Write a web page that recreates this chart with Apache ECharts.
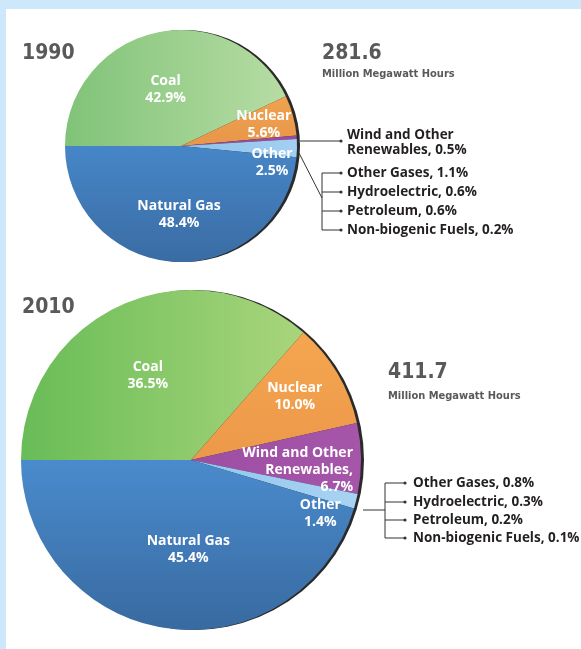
<!DOCTYPE html>
<html>
<head>
<meta charset="utf-8">
<script src="https://cdn.jsdelivr.net/npm/echarts@6/dist/echarts.min.js"></script>
<style>
html, body { margin: 0; padding: 0; background: #cde8fb; }
#main { width: 581px; height: 649px; }
</style>
</head>
<body>
<div id="main"></div>
<script>
// data
const years = ['1990', '2010']
const totals = [281.6, 411.7]
const unitLabel = 'Million Megawatt Hours'
const categories = ['Coal', 'Nuclear', 'Wind and Other Renewables', 'Other', 'Natural Gas']
const shares1990 = [42.9, 5.6, 0.5, 2.5, 48.4]
const shares2010 = [36.5, 10.0, 6.7, 1.4, 45.4]
const otherNames = ['Other Gases', 'Hydroelectric', 'Petroleum', 'Non-biogenic Fuels']
const other1990 = [1.1, 0.6, 0.6, 0.2]
const other2010 = [0.8, 0.3, 0.2, 0.1]

// label text shown inside the slices
const insideNames = ['Coal', 'Nuclear', 'Wind and Other\nRenewables,', 'Other', 'Natural Gas']

const grad = (x2, y2, c1, c2) => new echarts.graphic.LinearGradient(0, 0, x2, y2, [
    { offset: 0, color: c1 },
    { offset: 1, color: c2 }
])
const colors1990 = [
    grad(1, 0, '#80c378', '#b7dca4'),
    grad(0, 1, '#f0a24f', '#e8964a'),
    '#9b4a9f',
    grad(1, 0, '#8dc2ea', '#a3d0f2'),
    grad(0, 1, '#4686c8', '#3a6ca3')
]
const colors2010 = [
    grad(1, 0, '#68bc57', '#a9d57c'),
    grad(0, 1, '#f5a64f', '#ec984a'),
    grad(1, 0, '#9d4ea3', '#a656a9'),
    grad(1, 0, '#92c6ee', '#a8d3f3'),
    grad(0, 1, '#4a8bcd', '#386aa0')
]
// nudges so labels sit where the original puts them
const labelShift = [
    [[-2, 3], [24, -5], [0, 0], [30, 15], [1, 8]],
    [[-7, -4], [28, -19], [74, 11], [44, 32], [10, 2]]
]

const pies = [
    { center: [181, 146], r: 116 },
    { center: [191, 460], r: 170 }
]

const makeSeries = (shares, colors, idx) => ({
    type: 'pie',
    center: pies[idx].center,
    radius: pies[idx].r,
    startAngle: 180,
    clockwise: true,
    z: 3,
    silent: true,
    avoidLabelOverlap: false,
    data: shares.map((v, i) => ({
        name: categories[i],
        value: v,
        itemStyle: { color: colors[i] },
        label: { show: v >= 1 }
    })),
    label: {
        position: 'inside',
        color: '#fff',
        fontFamily: 'Open Sans',
        fontWeight: 'bold',
        fontSize: 14,
        lineHeight: 17,
        formatter: p => insideNames[p.dataIndex] + '\n' + p.value.toFixed(1) + '%'
    },
    labelLine: { show: false },
    labelLayout: p => {
        const s = labelShift[idx][p.dataIndex]
        const out = { dx: s[0], dy: s[1], hideOverlap: false }
        // the long renewables label is set flush right in the original
        if (idx === 1 && p.dataIndex === 2) out.align = 'right'
        return out
    }
})

const txt = (x, y, s, size, color, family) => ({
    type: 'text',
    x: x, y: y, z: 10,
    style: {
        text: s,
        fill: color,
        font: 'bold ' + size + 'px ' + family,
        textVerticalAlign: 'middle'
    }
})
const line = (pts) => ({
    type: 'polyline', z: 10,
    shape: { points: pts },
    style: { stroke: '#333', lineWidth: 1, fill: null }
})
const dot = (x, y) => ({
    type: 'circle', z: 10,
    shape: { cx: x, cy: y, r: 1.6 },
    style: { fill: '#333' }
})

const titleFont = '"DejaVu Sans Condensed", sans-serif'
const noteFont = '"Open Sans", sans-serif'
const fmt = v => v.toFixed(1) + '%'

const graphics = [
    { type: 'rect', z: 0, shape: { x: 6, y: 9, width: 575, height: 640 }, style: { fill: '#fff' } },
    // dark rim on the right of each pie
    { type: 'circle', z: 1, shape: { cx: pies[0].center[0] + 3, cy: pies[0].center[1], r: pies[0].r }, style: { fill: '#2a2a2a' } },
    { type: 'circle', z: 1, shape: { cx: pies[1].center[0] + 3, cy: pies[1].center[1], r: pies[1].r }, style: { fill: '#2a2a2a' } },

    txt(22, 54, years[0], 21, '#58595b', titleFont),
    txt(322, 54, totals[0].toFixed(1), 21, '#58595b', titleFont),
    txt(322, 74, unitLabel, 11, '#58595b', titleFont),
    txt(22, 308, years[1], 21, '#58595b', titleFont),
    txt(388, 373, totals[1].toFixed(1), 21, '#58595b', titleFont),
    txt(388, 396, unitLabel, 11, '#58595b', titleFont),

    // 1990 notes
    line([[300, 141], [340, 141]]), dot(341, 141),
    txt(347, 135, 'Wind and Other', 13.5, '#231f20', noteFont),
    txt(347, 150, 'Renewables, ' + fmt(shares1990[2]), 13.5, '#231f20', noteFont),
    line([[299, 153], [322, 198]]),
    line([[340, 173], [322, 173], [322, 230], [340, 230]]),
    line([[322, 192], [340, 192]]),
    line([[322, 211], [340, 211]]),
    dot(341, 173), dot(341, 192), dot(341, 211), dot(341, 230),

    // 2010 notes
    line([[363, 510], [385, 510]]),
    line([[404, 483], [385, 483], [385, 538], [404, 538]]),
    line([[385, 502], [404, 502]]),
    line([[385, 520], [404, 520]]),
    dot(405, 483), dot(405, 502), dot(405, 520), dot(405, 538)
]
const rows1990 = [173, 192, 211, 230]
const rows2010 = [483, 502, 520, 538]
otherNames.forEach((n, i) => {
    graphics.push(txt(347, rows1990[i], n + ', ' + fmt(other1990[i]), 13.5, '#231f20', noteFont))
    graphics.push(txt(413, rows2010[i], n + ', ' + fmt(other2010[i]), 13.5, '#231f20', noteFont))
})

const chart = echarts.init(document.getElementById('main'))
chart.setOption({
    animation: false,
    backgroundColor: '#cde8fb',
    series: [
        makeSeries(shares1990, colors1990, 0),
        makeSeries(shares2010, colors2010, 1)
    ],
    graphic: { elements: graphics }
})
</script>
</body>
</html>
